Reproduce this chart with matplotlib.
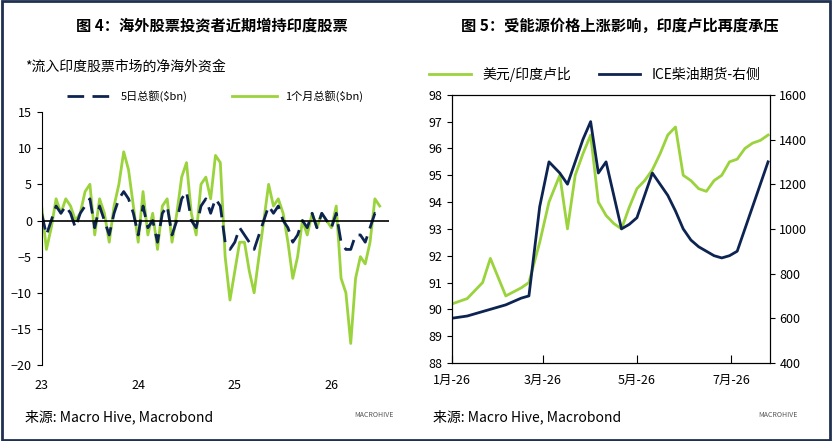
import matplotlib.pyplot as plt
import numpy as np

plt.rcParams['font.family'] = ['Noto Sans CJK SC', 'DejaVu Sans']

# left panel: time in years since 2000 (23 = 2023)
flow_t = [23.00, 23.05, 23.10, 23.15, 23.20, 23.25, 23.30, 23.35, 23.40, 23.45,
          23.50, 23.55, 23.60, 23.65, 23.70, 23.75, 23.80, 23.85, 23.90, 23.95,
          24.00, 24.05, 24.10, 24.15, 24.20, 24.25, 24.30, 24.35, 24.40, 24.45,
          24.50, 24.55, 24.60, 24.65, 24.70, 24.75, 24.80, 24.85, 24.90, 24.95,
          25.00, 25.05, 25.10, 25.15, 25.20, 25.25, 25.30, 25.35, 25.40, 25.45,
          25.50, 25.55, 25.60, 25.65, 25.70, 25.75, 25.80, 25.85, 25.90, 25.95,
          26.00, 26.05, 26.10, 26.15, 26.20, 26.25, 26.30, 26.35, 26.40, 26.45, 26.50]
flow_1m = [2, -4, -1, 3, 1, 3, 2, 0, 1, 4,
           5, -2, 3, 1, -3, 2, 5, 9.5, 7, 2,
           -3, 4, -2, 1, -4, 2, 3, -3, 1, 6,
           8, 1, -2, 5, 6, 3, 9, 8, -5, -11,
           -7, -3, -3, -7, -10, -5, 0, 5, 2, 3,
           1, -3, -8, -5, 0, -2, 1, -1, 1, 0,
           -1, 2, -8, -10, -17, -8, -5, -6, -3, 3, 2]
flow_5d = [1, -2, 0, 2, 1, 2, 1, -1, 1, 2,
           3, -1, 2, 0, -2, 1, 3, 4, 3, 1,
           -2, 2, -1, 0, -3, 1, 2, -2, 0, 3,
           4, 0, -1, 2, 3, 1, 3, 2, -3, -4,
           -3, -1, -2, -3, -4, -2, 0, 2, 1, 2,
           0, -1, -3, -2, 0, -1, 1, -1, 1, 0,
           -1, 1, -3, -4, -4, -2, -2, -3, -1, 1, 1]

# right panel: days since 1 Jan 2026
fx_day = [0, 10, 20, 25, 30, 35, 45, 50, 57, 63, 70, 75, 80, 85, 90, 95, 100, 105,
          110, 115, 120, 125, 130, 135, 140, 145, 150, 155, 160, 165, 170, 175, 180,
          185, 190, 195, 200, 205]
usdinr = [90.2, 90.4, 91.0, 91.9, 91.2, 90.5, 90.8, 91.0, 92.5, 94.0, 95.0, 93.0, 95.0,
          95.8, 96.5, 94.0, 93.5, 93.2, 93.0, 93.8, 94.5, 94.8, 95.2, 95.8, 96.5, 96.8,
          95.0, 94.8, 94.5, 94.4, 94.8, 95.0, 95.5, 95.6, 96.0, 96.2, 96.3, 96.5]
diesel = [600, 610, 630, 640, 650, 660, 690, 700, 1100, 1300, 1250, 1200, 1300, 1400,
          1480, 1250, 1300, 1150, 1000, 1020, 1050, 1150, 1250, 1200, 1150, 1080, 1000,
          950, 920, 900, 880, 870, 880, 900, 1000, 1100, 1200, 1300]

navy = '#0d2452'
green = '#9ad33c'

fig = plt.figure(figsize=(8.32, 4.41), dpi=100)
fig.patches.append(plt.Rectangle((0.002, 0.003), 0.996, 0.994, transform=fig.transFigure,
                                 fill=False, edgecolor='#1f3050', lw=2))

# ── left panel ──
ax = fig.add_axes([0.05, 0.172, 0.418, 0.574])
ax.plot(flow_t, flow_1m, color=green, lw=2, label='1个月总额($bn)')
ax.plot(flow_t, flow_5d, color=navy, lw=2, dashes=(6, 3), label='5日总额($bn)')
ax.axhline(0, color='black', lw=1.2)
ax.set_xlim(23, 26.6)
ax.set_ylim(-20, 15)
ax.set_yticks(range(-20, 16, 5))
ax.set_xticks([23, 24, 25, 26])
ax.set_xticklabels(['23', '24', '25', '26'])
for s in ['top', 'right', 'bottom']:
    ax.spines[s].set_visible(False)
ax.tick_params(axis='x', length=0, pad=10)
ax.tick_params(labelsize=9)
h, l = ax.get_legend_handles_labels()
ax.legend(h[::-1], l[::-1], loc='lower center', bbox_to_anchor=(0.5, 1.0), ncol=2,
          frameon=False, fontsize=8, handlelength=4, columnspacing=4)
fig.text(0.255, 0.93, '图 4：海外股票投资者近期增持印度股票', ha='center', fontsize=11, fontweight='bold')
fig.text(0.03, 0.84, '*流入印度股票市场的净海外资金', fontsize=10, style='italic')
fig.text(0.03, 0.045, '来源: Macro Hive, Macrobond', fontsize=10, style='italic')
fig.text(0.45, 0.055, 'MACROHIVE', fontsize=5, color='#555555', ha='center')

# ── right panel ──
ax2 = fig.add_axes([0.543, 0.177, 0.382, 0.608])
ax3 = ax2.twinx()
ax2.plot(fx_day, usdinr, color=green, lw=2, label='美元/印度卢比')
ax3.plot(fx_day, diesel, color=navy, lw=2, label='ICE柴油期货-右侧')
ax2.set_ylim(88, 98)
ax2.set_yticks(range(88, 99))
ax3.set_ylim(400, 1600)
ax3.set_yticks(range(400, 1601, 200))
ax2.set_xlim(0, 206)
ax2.set_xticks([0, 59, 120, 181])
ax2.set_xticklabels(['1月-26', '3月-26', '5月-26', '7月-26'])
ax2.tick_params(axis='x', direction='in', length=6, pad=8)
ax2.tick_params(labelsize=9)
ax3.tick_params(labelsize=9)
h1, l1 = ax2.get_legend_handles_labels()
h2, l2 = ax3.get_legend_handles_labels()
ax2.legend(h1 + h2, l1 + l2, loc='lower center', bbox_to_anchor=(0.45, 1.0), ncol=2,
           frameon=False, fontsize=10, handlelength=3, columnspacing=2)
fig.text(0.745, 0.93, '图 5：受能源价格上涨影响，印度卢比再度承压', ha='center', fontsize=11, fontweight='bold')
fig.text(0.52, 0.045, '来源: Macro Hive, Macrobond', fontsize=10, style='italic')
fig.text(0.935, 0.055, 'MACROHIVE', fontsize=5, color='#555555', ha='center')

fig.savefig('out.png', dpi=100)
